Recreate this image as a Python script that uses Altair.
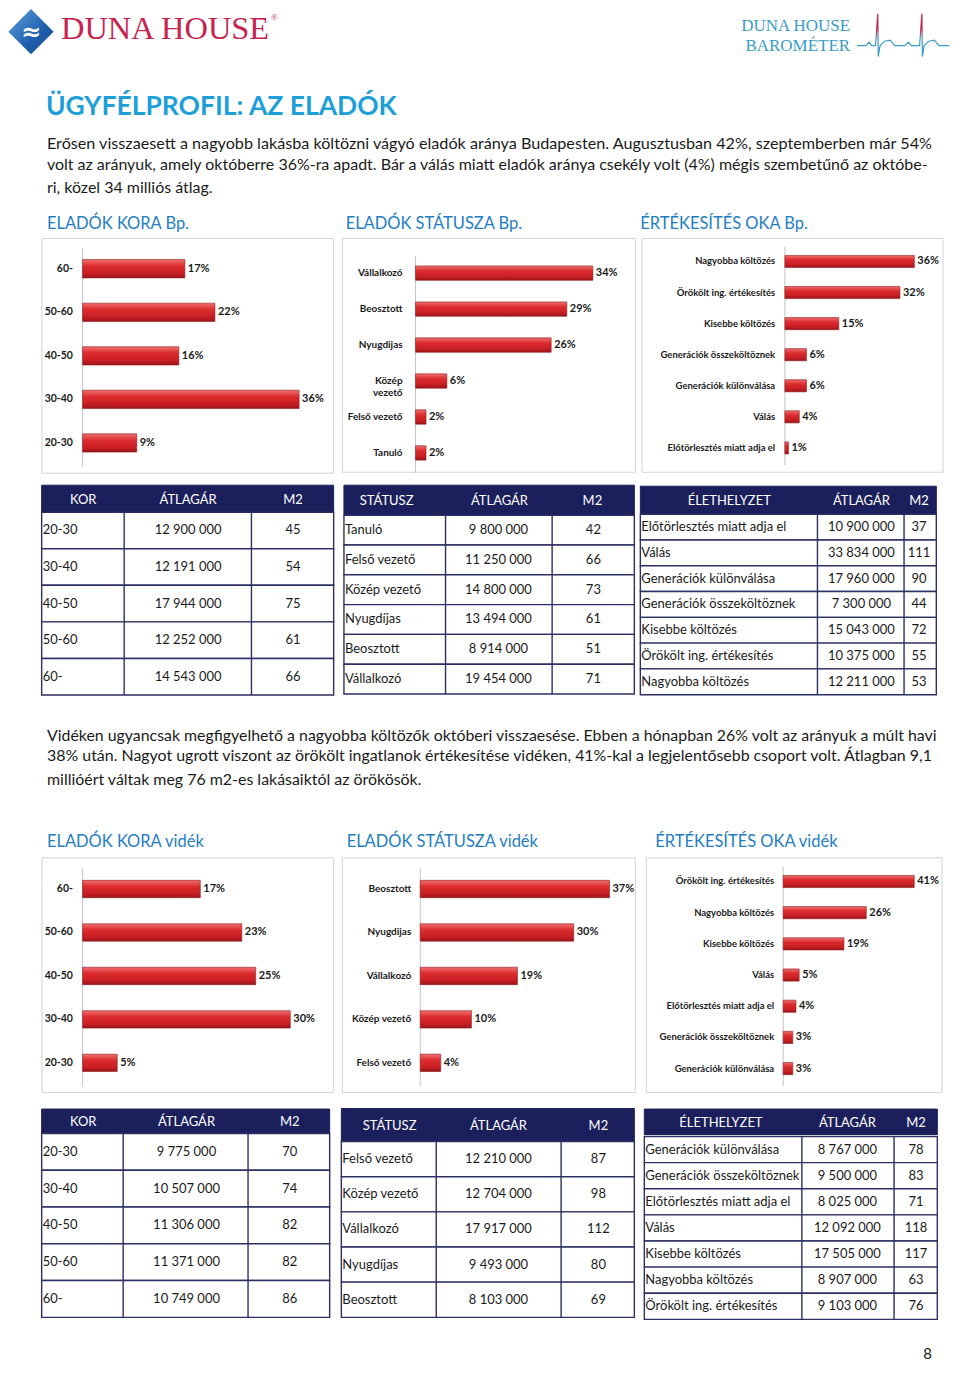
import altair as alt
import pandas as pd

# ---------------- data ----------------
bp_age_cats = ["60-", "50-60", "40-50", "30-40", "20-30"]
bp_age_vals = [17, 22, 16, 36, 9]
bp_status_cats = ["Vállalkozó", "Beosztott", "Nyugdijas", "Közép\nvezető", "Felső vezető", "Tanuló"]
bp_status_vals = [34, 29, 26, 6, 2, 2]
bp_reason_cats = ["Nagyobba költözés", "Örökölt ing. értékesítés", "Kisebbe költözés",
                  "Generációk összeköltöznek", "Generációk különválása", "Válás",
                  "Előtörlesztés miatt adja el"]
bp_reason_vals = [36, 32, 15, 6, 6, 4, 1]

v_age_cats = ["60-", "50-60", "40-50", "30-40", "20-30"]
v_age_vals = [17, 23, 25, 30, 5]
v_status_cats = ["Beosztott", "Nyugdijas", "Vállalkozó", "Közép vezető", "Felső vezető"]
v_status_vals = [37, 30, 19, 10, 4]
v_reason_cats = ["Örökölt ing. értékesítés", "Nagyobba költözés", "Kisebbe költözés", "Válás",
                 "Előtörlesztés miatt adja el", "Generációk összeköltöznek", "Generációk különválása"]
v_reason_vals = [41, 26, 19, 5, 4, 3, 3]

t1_rows = ["20-30", "30-40", "40-50", "50-60", "60-"]
t1_price = [12900000, 12191000, 17944000, 12252000, 14543000]
t1_m2 = [45, 54, 75, 61, 66]
t2_rows = ["Tanuló", "Felső vezető", "Közép vezető", "Nyugdíjas", "Beosztott", "Vállalkozó"]
t2_price = [9800000, 11250000, 14800000, 13494000, 8914000, 19454000]
t2_m2 = [42, 66, 73, 61, 51, 71]
t3_rows = ["Előtörlesztés miatt adja el", "Válás", "Generációk különválása", "Generációk összeköltöznek",
           "Kisebbe költözés", "Örökölt ing. értékesítés", "Nagyobba költözés"]
t3_price = [10900000, 33834000, 17960000, 7300000, 15043000, 10375000, 12211000]
t3_m2 = [37, 111, 90, 44, 72, 55, 53]

t4_rows = ["20-30", "30-40", "40-50", "50-60", "60-"]
t4_price = [9775000, 10507000, 11306000, 11371000, 10749000]
t4_m2 = [70, 74, 82, 82, 86]
t5_rows = ["Felső vezető", "Közép vezető", "Vállalkozó", "Nyugdíjas", "Beosztott"]
t5_price = [12210000, 12704000, 17917000, 9493000, 8103000]
t5_m2 = [87, 98, 112, 80, 69]
t6_rows = ["Generációk különválása", "Generációk összeköltöznek", "Előtörlesztés miatt adja el", "Válás",
           "Kisebbe költözés", "Nagyobba költözés", "Örökölt ing. értékesítés"]
t6_price = [8767000, 9500000, 8025000, 12092000, 17505000, 8907000, 9103000]
t6_m2 = [78, 83, 71, 118, 117, 63, 76]

para1 = ["Erősen visszaesett a nagyobb lakásba költözni vágyó eladók aránya Budapesten. Augusztusban 42%, szeptemberben már 54%",
         "volt az arányuk, amely októberre 36%-ra apadt. Bár a válás miatt eladók aránya csekély volt (4%) mégis szembetűnő az októbe-",
         "ri, közel 34 milliós átlag."]
para2 = ["Vidéken ugyancsak megfigyelhető a nagyobba költözők októberi visszaesése. Ebben a hónapban 26% volt az arányuk a múlt havi",
         "38% után. Nagyot ugrott viszont az örökölt ingatlanok értékesítése vidéken, 41%-kal a legjelentősebb csoport volt. Átlagban 9,1",
         "millióért váltak meg 76 m2-es lakásaiktól az örökösök."]

ecg_x = [0, 10, 13, 16, 20, 22.5, 23, 25, 30, 36, 41, 52, 56, 59, 68, 70.5, 71, 73, 78, 84, 89, 100]
ecg_y = [-0.45, -0.45, -0.3, -0.45, -0.45, 1, -0.95, -0.45, -0.25, -0.2, -0.45, -0.45, -0.3, -0.45,
         -0.45, 1, -0.95, -0.45, -0.25, -0.2, -0.45, -0.45]

# ---------------- helpers ----------------
OX, OY = 8, 8
def X(v): return v - OX
def Y(v): return v - OY

FONT = "Lato"
NAVY = "#1b1f5c"
GRID = "#2c3063"
TXT = "#1a1a1a"
BLUE_T = "#1e9fd7"
BLUE_H = "#1f7ec2"

def txt(s, x, y, size, color=TXT, weight="normal", align="left", font=FONT):
    return alt.Chart(pd.DataFrame({"t": [s]})).mark_text(
        align=align, baseline="middle", font=font, fontSize=size, fontWeight=weight, color=color
    ).encode(x=alt.value(X(x)), y=alt.value(Y(y)), text="t:N")

def box(x0, y0, x1, y1, fill="white", stroke="#d3d3d3", sw=1.0):
    return alt.Chart(pd.DataFrame({"k": [0]})).mark_rect(fill=fill, stroke=stroke, strokeWidth=sw).encode(
        x=alt.value(X(x0)), x2=alt.value(X(x1)), y=alt.value(Y(y0)), y2=alt.value(Y(y1)))

bar_grad = alt.LinearGradient(
    gradient="linear", x1=0, x2=0, y1=0, y2=1,
    stops=[alt.GradientStop(color="#f07070", offset=0),
           alt.GradientStop(color="#dc2c2e", offset=0.35),
           alt.GradientStop(color="#c81f24", offset=0.75),
           alt.GradientStop(color="#9a1519", offset=1)])

def bar_panel(cats, vals, bx, axis_x, ppp, band, pi, label_right, lsize):
    df = pd.DataFrame({"cat": cats, "val": vals, "lbl": [f"{v}%" for v in vals]})
    vmax = max(vals)
    xs = alt.Scale(domain=[0, vmax], range=[X(axis_x), X(axis_x + vmax * ppp)], nice=False, zero=True)
    ys = alt.Scale(domain=cats, range=[Y(band[0]), Y(band[1])], paddingInner=pi, paddingOuter=pi / 2)
    frame = box(*bx)
    axis_line = alt.Chart(pd.DataFrame({"z": [0]})).mark_rule(color="#c4c4c4", strokeWidth=1).encode(
        x=alt.X("z:Q", scale=xs, axis=None),
        y=alt.value(Y(band[0] + 1)), y2=alt.value(Y(band[1] + 2)))
    bars = alt.Chart(df).mark_bar(color=bar_grad, stroke="#8f1a1c", strokeWidth=0.6).encode(
        x=alt.X("val:Q", scale=xs, axis=None),
        y=alt.Y("cat:N", scale=ys, axis=None, sort=None))
    vlab = alt.Chart(df).mark_text(align="left", baseline="middle", dx=3, font=FONT, fontSize=11,
                                   fontWeight="bold", color=TXT).encode(
        x=alt.X("val:Q", scale=xs, axis=None),
        y=alt.Y("cat:N", scale=ys, axis=None, sort=None), text="lbl:N")
    clab = alt.Chart(df).mark_text(align="right", baseline="middle", font=FONT, fontSize=lsize,
                                   fontWeight="bold", color=TXT, lineBreak="\n").encode(
        x=alt.value(X(label_right)),
        y=alt.Y("cat:N", scale=ys, axis=None, sort=None), text="cat:N")
    return alt.layer(frame, axis_line, bars, vlab, clab)

def fmt(v):
    return f"{v:,}".replace(",", " ")

def table(rows, prices, m2s, heads, edges, head_y, rows_y, head_cx, price_cx, m2_cx):
    left, s1, s2, right = edges
    df = pd.DataFrame({"row": rows, "price": [fmt(p) for p in prices], "m2": [str(m) for m in m2s]})
    ys = alt.Scale(domain=rows, range=[Y(rows_y[0]), Y(rows_y[1])], paddingInner=0, paddingOuter=0)
    layers = [box(left, head_y[0], right, head_y[1], fill=NAVY, stroke=NAVY, sw=1)]
    for h, cx in zip(heads, head_cx):
        layers.append(txt(h, cx, (head_y[0] + head_y[1]) / 2 + 1, 13, color="white", align="center"))
    cells = alt.Chart(df).mark_rect(fill="white", stroke=GRID, strokeWidth=1.4).encode(
        x=alt.value(X(left)), x2=alt.value(X(right)),
        y=alt.Y("row:N", scale=ys, axis=None, sort=None))
    layers.append(cells)
    for sx in (s1, s2):
        layers.append(alt.Chart(pd.DataFrame({"k": [0]})).mark_rule(color=GRID, strokeWidth=1.4).encode(
            x=alt.value(X(sx)), y=alt.value(Y(rows_y[0])), y2=alt.value(Y(rows_y[1]))))
    common = dict(baseline="middle", font=FONT, fontSize=13, color=TXT)
    layers.append(alt.Chart(df).mark_text(align="left", **common).encode(
        x=alt.value(X(left + 1)), y=alt.Y("row:N", scale=ys, axis=None, sort=None), text="row:N"))
    layers.append(alt.Chart(df).mark_text(align="center", **common).encode(
        x=alt.value(X(price_cx)), y=alt.Y("row:N", scale=ys, axis=None, sort=None), text="price:N"))
    layers.append(alt.Chart(df).mark_text(align="center", **common).encode(
        x=alt.value(X(m2_cx)), y=alt.Y("row:N", scale=ys, axis=None, sort=None), text="m2:N"))
    return alt.layer(*layers)

# ---------------- header ----------------
logo = alt.Chart(pd.DataFrame({"k": [0]})).mark_point(
    shape="diamond", filled=True, size=2050, opacity=1,
    color=alt.LinearGradient(gradient="linear", x1=0, x2=1, y1=0, y2=1,
                             stops=[alt.GradientStop(color="#5fa3dc", offset=0),
                                    alt.GradientStop(color="#1f5fae", offset=0.6),
                                    alt.GradientStop(color="#174a8f", offset=1)])
).encode(x=alt.value(X(31)), y=alt.value(Y(31)))
logo_wave = txt("≈", 31, 32, 24, color="white", weight="bold", align="center", font="DejaVu Sans")

ecg_df = pd.DataFrame({"ex": ecg_x, "ey": ecg_y})
ecg = alt.Chart(ecg_df).mark_line(
    strokeWidth=1.2,
    stroke=alt.LinearGradient(gradient="linear", x1=0, x2=0, y1=0, y2=1,
                              stops=[alt.GradientStop(color="#c8234f", offset=0),
                                     alt.GradientStop(color="#c8234f", offset=0.35),
                                     alt.GradientStop(color="#3a9cc4", offset=0.6),
                                     alt.GradientStop(color="#3a9cc4", offset=1)])
).encode(
    x=alt.X("ex:Q", scale=alt.Scale(domain=[0, 100], range=[X(858), X(950)], nice=False), axis=None),
    y=alt.Y("ey:Q", scale=alt.Scale(domain=[-1, 1], range=[Y(57), Y(13)], nice=False, zero=False), axis=None),
    order="ex:Q")

header = [
    logo, logo_wave,
    txt("DUNA HOUSE", 61, 28, 32.5, color="#c8234f", font="Liberation Serif"),
    txt("®", 271, 16, 9, color="#c8234f", font="Liberation Serif"),
    txt("DUNA HOUSE", 851, 25, 17, color="#3a9cc4", align="right", font="Liberation Serif"),
    txt("BAROMÉTER", 851, 45, 17, color="#3a9cc4", align="right", font="Liberation Serif"),
    ecg,
    txt("ÜGYFÉLPROFIL: AZ ELADÓK", 46, 106, 26.5, color=BLUE_T, weight="bold"),
]
for line, yy, fs in zip(para1, [143, 164, 187], [16.2, 16.0, 16.0]):
    header.append(txt(line, 47, yy, fs))
sections = [
    txt("ELADÓK KORA Bp.", 47, 224, 16.5, color=BLUE_H),
    txt("ELADÓK STÁTUSZA Bp.", 346, 224, 16.5, color=BLUE_H),
    txt("ÉRTÉKESÍTÉS OKA Bp.", 641, 224, 16.5, color=BLUE_H),
    txt("ELADÓK KORA vidék", 47, 842, 16.5, color=BLUE_H),
    txt("ELADÓK STÁTUSZA vidék", 347, 842, 16.5, color=BLUE_H),
    txt("ÉRTÉKESÍTÉS OKA vidék", 656, 842, 16.5, color=BLUE_H),
]
for line, yy, fs in zip(para2, [736, 756, 780], [15.9, 15.95, 15.95]):
    sections.append(txt(line, 47, yy, fs))
sections.append(txt("8", 933, 1355, 15, align="right"))

# ---------------- panels ----------------
panels = [
    bar_panel(bp_age_cats, bp_age_vals, (42, 238, 334, 473), 82.7, 6.02, (246.5, 464.5), 0.58, 73, 10.5),
    bar_panel(bp_status_cats, bp_status_vals, (342.7, 238, 636, 472), 416, 5.22, (254.7, 470.7), 0.6, 403, 10),
    bar_panel(bp_reason_cats, bp_reason_vals, (642.7, 238, 944, 472), 785.7, 3.6, (245.5, 463.2), 0.61, 776, 9.5),
    bar_panel(v_age_cats, v_age_vals, (42, 858, 334, 1093), 82.7, 6.93, (867.5, 1085), 0.6, 73, 10.5),
    bar_panel(v_status_cats, v_status_vals, (342.7, 858, 636, 1093), 420.7, 5.12, (867.5, 1085), 0.6, 411.7, 10),
    bar_panel(v_reason_cats, v_reason_vals, (647, 858, 943, 1093), 784, 3.2, (866.1, 1084.6), 0.61, 775, 9.5),
]

tables = [
    table(t1_rows, t1_price, t1_m2, ["KOR", "ÁTLAGÁR", "M2"], (41.7, 124.3, 251.7, 334),
          (485, 512), (512, 695), [83.3, 188.3, 293.3], 188.3, 293.3),
    table(t2_rows, t2_price, t2_m2, ["STÁTUSZ", "ÁTLAGÁR", "M2"], (344.3, 446, 552.7, 635),
          (485, 515), (515, 694), [387, 500, 593], 499, 594),
    table(t3_rows, t3_price, t3_m2, ["ÉLETHELYZET", "ÁTLAGÁR", "M2"], (641, 818.3, 905, 937.3),
          (486, 514), (514, 694.7), [730, 862.3, 920], 862.3, 920),
    table(t4_rows, t4_price, t4_m2, ["KOR", "ÁTLAGÁR", "M2"], (41.7, 123.3, 248.3, 330),
          (1109.5, 1134), (1134, 1318), [83.3, 186.7, 290], 186.7, 290),
    table(t5_rows, t5_price, t5_m2, ["STÁTUSZ", "ÁTLAGÁR", "M2"], (341.7, 436.7, 561.7, 635),
          (1109, 1142), (1142, 1318), [390, 499, 599], 499, 599),
    table(t6_rows, t6_price, t6_m2, ["ÉLETHELYZET", "ÁTLAGÁR", "M2"], (645, 802.7, 895, 938.3),
          (1109.5, 1135), (1137, 1320), [721.7, 848.3, 917], 848.3, 917),
]

chart = alt.layer(*header, *sections, *panels, *tables).resolve_scale(
    x="independent", y="independent"
).properties(width=942, height=1356, padding=0, background="white").configure_view(stroke=None)

chart.save("out.html", embed_options={"renderer": "svg", "actions": False})
